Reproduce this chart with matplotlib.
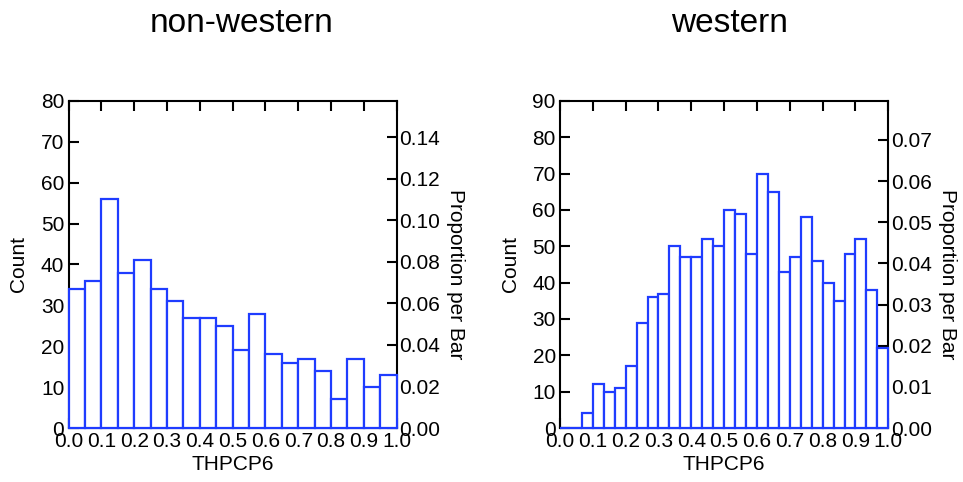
import matplotlib
matplotlib.use('agg')
import matplotlib.pyplot as plt
import numpy as np

plt.rcParams['font.family'] = ['Liberation Sans', 'DejaVu Sans']

# Histogram counts
titres = ['non-western', 'western']
comptes_nonwestern = [34, 36, 56, 38, 41, 34, 31, 27, 27, 25,
                      19, 28, 18, 16, 17, 14, 7, 17, 10, 13]
comptes_western = [0, 0, 4, 12, 10, 11, 17, 29, 36, 37,
                   50, 47, 47, 52, 50, 60, 59, 48, 70, 65,
                   43, 47, 58, 46, 40, 35, 48, 52, 38, 22]
count_max = [80, 90]
prop_ticks = [np.arange(0, 0.141, 0.02), np.arange(0, 0.071, 0.01)]
x_ticks = np.round(np.arange(0, 1.01, 0.1), 1)

bleu = '#1f3cff'

fig = plt.figure(figsize=(9.63, 4.82), dpi=100)

positions = [[68.5 / 963, 54 / 482, 328.2 / 963, 327 / 482],
             [560 / 963, 54 / 482, 328.3 / 963, 327 / 482]]
centres_titre = [242 / 963, 729 / 963]

for i, comptes in enumerate([comptes_nonwestern, comptes_western]):
    ax = fig.add_axes(positions[i])
    ax2 = ax.twinx()
    ax.set_zorder(ax2.get_zorder() + 1)  # barres au-dessus des axes
    ax.patch.set_visible(False)

    n = len(comptes)
    bords = np.linspace(0, 1, n + 1)
    ax.bar(bords[:-1], comptes, width=1.0 / n, align='edge',
           facecolor='white', edgecolor=bleu, linewidth=1.6,
           zorder=3, clip_on=False)

    ax.set_xlim(0, 1)
    ax.set_ylim(0, count_max[i])
    ax.set_xticks(x_ticks)
    ax.set_xticklabels(['{:.1f}'.format(v) for v in x_ticks])
    ax.set_yticks(np.arange(0, count_max[i] + 1, 10))
    ax.tick_params(axis='both', direction='in', length=7, width=1.5,
                   labelsize=15, top=True, right=False)
    ax.tick_params(axis='x', pad=3)
    ax.tick_params(axis='y', pad=3)
    for sp in ax.spines.values():
        sp.set_linewidth(1.5)

    # axe de droite : proportion par barre
    total = sum(comptes)
    ax2.set_ylim(0, count_max[i] / total)
    ax2.set_yticks(prop_ticks[i])
    ax2.set_yticklabels(['{:.2f}'.format(v) for v in prop_ticks[i]])
    ax2.tick_params(axis='y', direction='in', length=7, width=1.5,
                    labelsize=15, pad=2)
    for sp in ax2.spines.values():
        sp.set_visible(False)

    ax.set_xlabel('THPCP6', fontsize=15, labelpad=3)
    ax.set_ylabel('Count', fontsize=15, labelpad=9)
    ax2.set_ylabel('Proportion per Bar', fontsize=15, rotation=270,
                   labelpad=18)
    ax2.yaxis.label.set_y(0.47)

    fig.text(centres_titre[i], 1 - 32 / 482, titres[i], fontsize=24,
             ha='center', va='baseline')

fig.savefig('out.png', dpi=100)
